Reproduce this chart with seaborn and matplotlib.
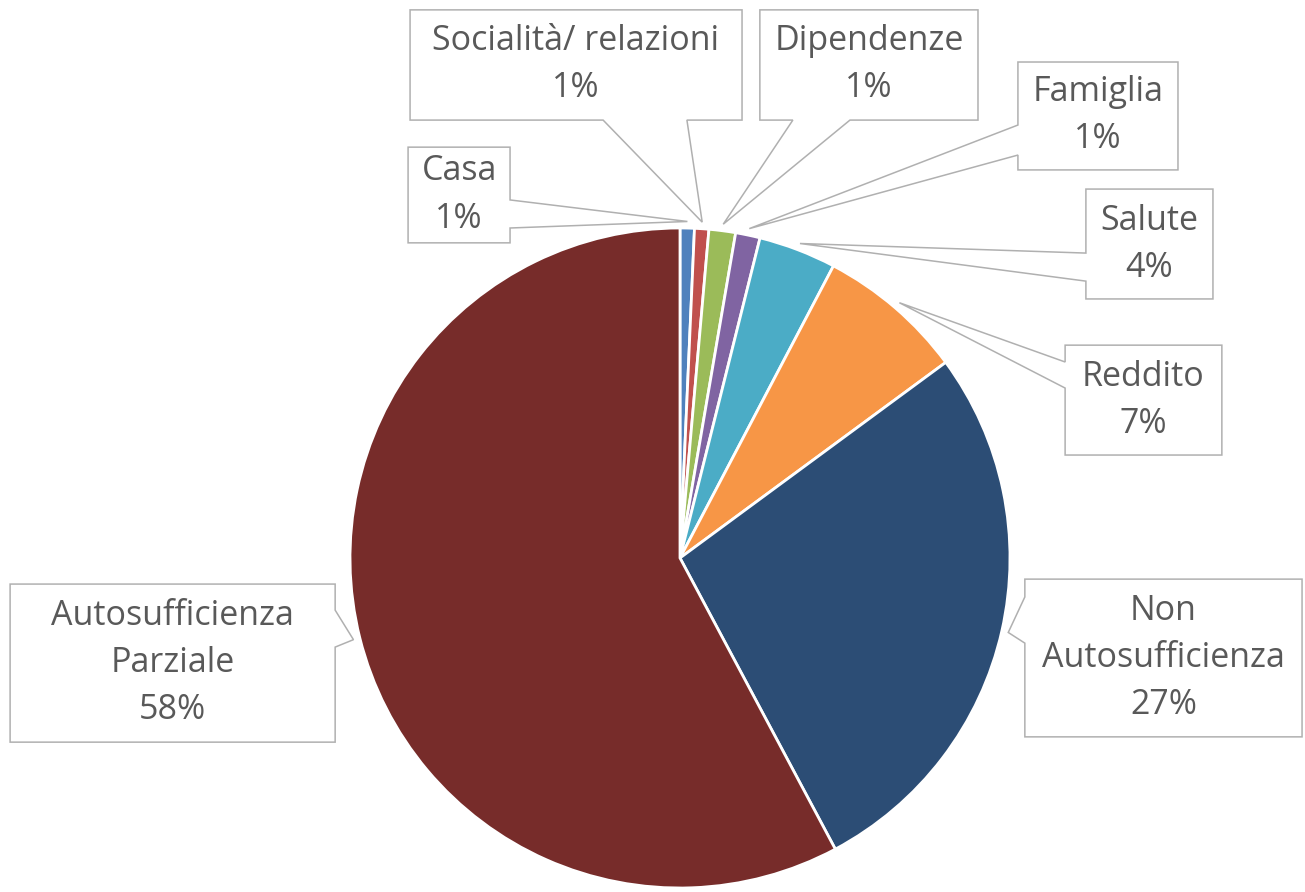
import numpy as np
import matplotlib
matplotlib.use('Agg')
import matplotlib.pyplot as plt
import seaborn as sns
from matplotlib.patches import Polygon

sns.set_theme(style='white')
plt.rcParams['font.family'] = ['Open Sans', 'DejaVu Sans']

# dati
categorie = ['Casa', 'Socialità/ relazioni', 'Dipendenze', 'Famiglia', 'Salute',
             'Reddito', 'Non\nAutosufficienza', 'Autosufficienza\nParziale']
valori = [0.7, 0.7, 1.3, 1.2, 3.8, 7.2, 27.3, 57.8]
colori = ['#4F81BD', '#C0504D', '#9BBB59', '#8064A2', '#4BACC6',
          '#F79646', '#2C4D75', '#772C2A']

# riquadri delle etichette (x0, x1, y_basso, y_alto), lato della coda e tratto di attacco
riquadri = [(-0.824, -0.515, 0.955, 1.245), (-0.818, 0.188, 1.327, 1.661),
            (0.242, 0.903, 1.327, 1.661), (1.024, 1.509, 1.176, 1.503),
            (1.230, 1.615, 0.785, 1.118), (1.167, 1.642, 0.312, 0.645),
            (1.045, 1.885, -0.542, -0.064), (-2.030, -1.045, -0.558, -0.079)]
lati = ['right', 'bottom', 'bottom', 'left', 'left', 'left', 'left', 'right']
attacchi = [(1.0, 1.085), (-0.233, 0.021), (0.342, 0.515), (1.221, 1.312),
            (0.839, 0.924), (0.515, 0.594), (-0.258, -0.118), (-0.270, -0.158)]

fig = plt.figure(figsize=(13.05, 8.92), dpi=100)
ax = fig.add_axes([0, 0, 1, 1])

wedges, _ = ax.pie(valori, colors=colori, startangle=90, counterclock=False,
                   radius=1, wedgeprops=dict(edgecolor='white', linewidth=2))

tot = sum(valori)
cum = np.cumsum([0] + valori[:-1])
for i, nome in enumerate(categorie):
    # punta della coda: angolo medio della fetta
    frac = (cum[i] + valori[i] / 2) / tot
    ang = np.deg2rad(90 - 360 * frac)
    tip = (1.02 * np.cos(ang), 1.02 * np.sin(ang))
    x0, x1, y0, y1 = riquadri[i]
    a, b = attacchi[i]
    if lati[i] == 'right':
        pts = [(x0, y0), (x1, y0), (x1, a), tip, (x1, b), (x1, y1), (x0, y1)]
    elif lati[i] == 'left':
        pts = [(x0, y0), (x1, y0), (x1, y1), (x0, y1), (x0, b), tip, (x0, a)]
    else:
        pts = [(x0, y0), (a, y0), tip, (b, y0), (x1, y0), (x1, y1), (x0, y1)]
    ax.add_patch(Polygon(pts, closed=True, facecolor='white', edgecolor='#B0B0B0',
                         linewidth=1.1, zorder=3))
    testo = f'{nome}\n{valori[i] / tot * 100:.0f}%'
    ax.text((x0 + x1) / 2, (y0 + y1) / 2, testo, ha='center', va='center',
            fontsize=24.5, color='#595959', linespacing=1.5, zorder=4)

ax.set_xlim(-680 / 330, 625 / 330)
ax.set_ylim((558 - 892) / 330, 558 / 330)
ax.set_aspect('equal')
ax.axis('off')

plt.savefig('out.png', dpi=100)
